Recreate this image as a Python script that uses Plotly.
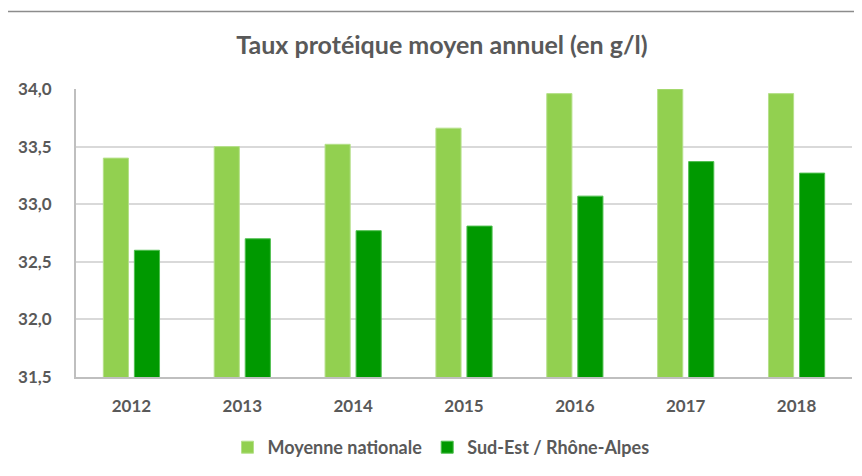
import plotly.graph_objects as go

years = ["2012", "2013", "2014", "2015", "2016", "2017", "2018"]
moyenne_nationale = [33.40, 33.50, 33.52, 33.66, 33.96, 34.00, 33.96]
sud_est = [32.60, 32.70, 32.77, 32.81, 33.07, 33.37, 33.27]
y_ticks = [31.5, 32.0, 32.5, 33.0, 33.5, 34.0]

FONT = "Lato"
TXT = "#595959"

fig = go.Figure()
fig.add_trace(go.Bar(
    x=years, y=moyenne_nationale, name="Moyenne nationale",
    marker=dict(color="#92D050", line=dict(color="#b5e08a", width=1)),
))
fig.add_trace(go.Bar(
    x=years, y=sud_est, name="Sud-Est / Rhône-Alpes",
    marker=dict(color="#009900", line=dict(color="#4fbf4f", width=1)),
))

# page body has an 8px margin: work in screen pixels and convert
OX, OY = 8, 8
W, H = 854, 468
L = 76 - OX
T = 89 - OY
R = W - (852 - OX)
B = H - (379 - OY)
pw, ph = W - L - R, H - T - B


def px(x):
    return (x - OX - L) / pw


def py(y):
    return (H - B - (y - OY)) / ph


bold = dict(family=FONT, color=TXT, size=17, weight="bold")

fig.update_layout(
    width=W, height=H,
    margin=dict(l=L, r=R, t=T, b=B),
    paper_bgcolor="white", plot_bgcolor="white",
    separators=", ",
    barmode="group", bargap=0.44, bargroupgap=0.19,
    font=bold,
    title=dict(text="Taux protéique moyen annuel (en g/l)",
               x=(442 - OX) / W, xanchor="center",
               y=1 - (45 - OY) / H, yanchor="middle",
               font=dict(family=FONT, size=25, color=TXT, weight="bold")),
    xaxis=dict(showgrid=False, showline=True, linecolor="#bfbfbf", linewidth=2,
               ticks="", tickfont=bold, ticklabelstandoff=13),
    yaxis=dict(range=[31.5, 34.0], tickvals=y_ticks, tickformat=".1f",
               showgrid=True, gridcolor="#d9d9d9", gridwidth=2,
               showline=True, linecolor="#bfbfbf", linewidth=2,
               zeroline=False, ticks="", ticklabelstandoff=19,
               tickfont=bold),
    legend=dict(orientation="h", x=px(441), xanchor="center",
                y=py(450), yanchor="middle",
                font=dict(family=FONT, size=18, color=TXT, weight="bold"),
                itemwidth=30, traceorder="normal"),
    showlegend=True,
    shapes=[dict(type="path", xref="paper", yref="paper",
                 path=f"M {px(7)} {py(490)} L {px(7)} {py(11)} L {px(870)} {py(11)}",
                 line=dict(color="#8c8c8c", width=1.5), layer="above")],
)

fig.write_html("out.html")
